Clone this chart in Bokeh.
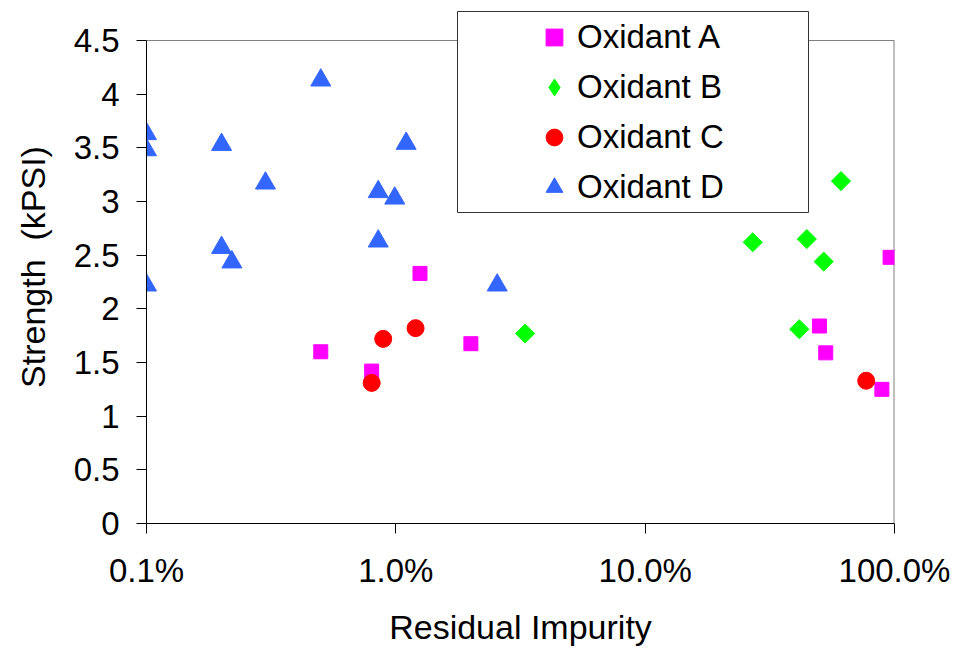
import numpy as np
from bokeh.plotting import figure
from bokeh.models import (Range1d, FixedTicker, NumeralTickFormatter, Legend, LegendItem,
                          BoxAnnotation)
from bokeh.embed import file_html
from bokeh.resources import INLINE

# ---- data (x = residual impurity fraction, y = strength kPSI) ----
a_x = [0.0125, 0.005, 0.008, 0.02, 0.96, 0.50, 0.53, 0.89]
a_y = [2.33, 1.60, 1.42, 1.675, 2.48, 1.84, 1.59, 1.25]
b_x = [0.033, 0.61, 0.27, 0.445, 0.52, 0.415]
b_y = [1.77, 3.19, 2.62, 2.65, 2.44, 1.81]
c_x = [0.0089, 0.012, 0.008, 0.77]
c_y = [1.72, 1.82, 1.31, 1.33]
d_x = [0.001, 0.001, 0.002, 0.005, 0.011, 0.003, 0.0085, 0.0099, 0.0085, 0.002, 0.0022, 0.001, 0.0255]
d_y = [3.63, 3.48, 3.53, 4.13, 3.54, 3.17, 3.09, 3.03, 2.63, 2.57, 2.435, 2.22, 2.22]

series_names = ["Oxidant A", "Oxidant B", "Oxidant C", "Oxidant D"]
x_min, x_max = 0.001, 1
y_min, y_max = 0, 4.5
x_ticks = [0.001, 0.01, 0.1, 1]
y_ticks = [0, 0.5, 1, 1.5, 2, 2.5, 3, 3.5, 4, 4.5]
y_tick_labels = ["0", "0.5", "1", "1.5", "2", "2.5", "3", "3.5", "4", "4.5"]

FONT = "Liberation Sans"

# frame spans from the legend top (10px) to the x axis (523px);
# the plotted area proper ends at y_max (40px)
PLOT_H, EXTRA_TOP = 483, 30
y_top = y_max + (y_max - y_min) * EXTRA_TOP / PLOT_H

p = figure(width=957, height=648, x_axis_type="log",
           x_range=Range1d(x_min, x_max), y_range=Range1d(y_min, y_top),
           output_backend="svg", toolbar_location=None,
           min_border_left=146, min_border_right=63,
           min_border_top=10, min_border_bottom=125)

p.background_fill_color = "white"
p.border_fill_color = "white"
p.outline_line_color = None
p.xgrid.visible = False
p.ygrid.visible = False

# axes
p.xaxis.ticker = FixedTicker(ticks=x_ticks)
p.xaxis.formatter = NumeralTickFormatter(format="0.0%")
p.yaxis.ticker = FixedTicker(ticks=y_ticks)
p.yaxis.major_label_overrides = {t: l for t, l in zip(y_ticks, y_tick_labels)}
p.yaxis.bounds = (y_min, y_max)

for ax in (p.xaxis[0], p.yaxis[0]):
    ax.axis_line_color = "black"
    ax.axis_line_width = 1
    ax.major_tick_line_color = "black"
    ax.major_tick_in = 0
    ax.major_tick_out = 10
    ax.minor_tick_line_color = None
    ax.major_label_text_font = FONT
    ax.major_label_text_font_size = "33px"
    ax.major_label_text_color = "black"
    ax.axis_label_text_font = FONT
    ax.axis_label_text_font_size = "34px"
    ax.axis_label_text_font_style = "normal"
    ax.axis_label_text_color = "black"

p.xaxis.axis_label = "Residual Impurity"
p.yaxis.axis_label = "Strength\u00a0 (kPSI)"
p.xaxis.major_label_standoff = 18
p.xaxis.axis_label_standoff = 16
p.yaxis.major_label_standoff = 17
p.yaxis.axis_label_standoff = 19

# plot-area border (top and right, grey)
p.segment(x0=[x_min], y0=[y_max], x1=[x_max], y1=[y_max], line_color="#808080", line_width=1)
p.segment(x0=[x_max], y0=[y_min], x1=[x_max], y1=[y_max], line_color="#808080", line_width=2)

# series
ra = p.scatter(a_x, a_y, marker="square", size=14, fill_color="#FF00FF", line_color="#FF00FF")
rb = p.scatter(b_x, b_y, marker="square", angle=np.pi / 4, size=13.5,
               fill_color="#00FF00", line_color="#00FF00")
rc = p.scatter(c_x, c_y, marker="circle", size=17, fill_color="#FF0000", line_color="#FF0000")
rd = p.scatter(d_x, d_y, marker="triangle", size=20, fill_color="#3366FF", line_color="#3366FF")
# legend swatch for the diamond series (a single undrawn NaN placeholder)
rb_key = p.scatter([np.nan], [np.nan], marker="diamond", size=19,
                   fill_color="#00FF00", line_color="#00FF00")

# legend box
box = BoxAnnotation(left=311, right=662, bottom=311, top=512,
                    left_units="screen", right_units="screen",
                    bottom_units="screen", top_units="screen",
                    fill_color="white", fill_alpha=1.0,
                    line_color="#333333", line_width=1, line_alpha=1.0)
p.add_layout(box)

legend = Legend(items=[LegendItem(label=n, renderers=[r])
                       for n, r in zip(series_names, [ra, rb_key, rc, rd])],
                location=(387, 311), orientation="vertical",
                glyph_width=42, glyph_height=50, label_height=50,
                label_standoff=2, spacing=0, padding=0, margin=0,
                border_line_color=None, background_fill_alpha=0,
                label_text_font=FONT, label_text_font_size="33px",
                label_text_color="black")
p.add_layout(legend)

open("out.html", "w").write(file_html(p, INLINE))
